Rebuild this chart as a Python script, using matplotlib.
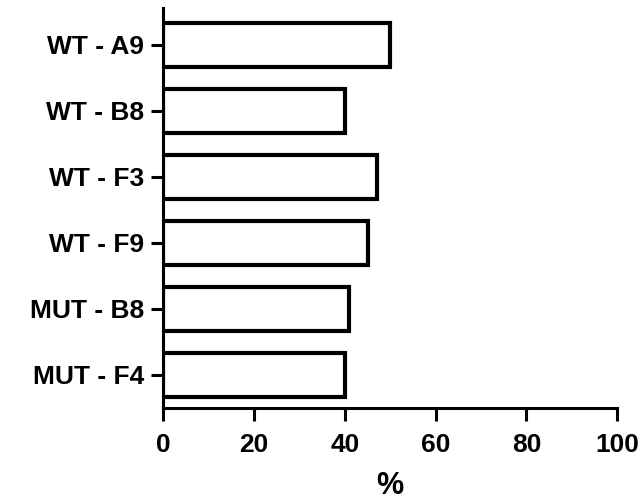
import matplotlib
matplotlib.use("Agg")
import matplotlib.pyplot as plt

# данные, сверху вниз как на картинке
categories = ["WT - A9", "WT - B8", "WT - F3", "WT - F9", "MUT - B8", "MUT - F4"]
values = [50, 40, 47, 45, 41, 40]

plt.rcParams['font.family'] = ['Liberation Sans', 'DejaVu Sans']
plt.rcParams['font.weight'] = 'bold'

fig = plt.figure(figsize=(6.43, 5.0), dpi=100)
ax = fig.add_axes([0.254, 0.184, 0.706, 0.800])

# нижняя категория в позиции 0
positions = list(range(len(categories)))[::-1]
ax.barh(positions, values, height=0.68, color="white", edgecolor="black", linewidth=3.0)

ax.set_xlim(0, 100)
ax.set_ylim(-0.5, 5.56)
ax.set_xticks([0, 20, 40, 60, 80, 100])
ax.set_yticks(positions)
ax.set_yticklabels(categories)

for side in ["top", "right"]:
    ax.spines[side].set_visible(False)
for side in ["left", "bottom"]:
    ax.spines[side].set_linewidth(2.2)

ax.tick_params(axis="both", width=2.2, length=9, labelsize=19)
ax.tick_params(axis="y", pad=5)
ax.tick_params(axis="x", pad=9)
ax.set_xlabel("%", fontsize=22, fontweight="bold", labelpad=10)

fig.savefig("out.png", dpi=100)
